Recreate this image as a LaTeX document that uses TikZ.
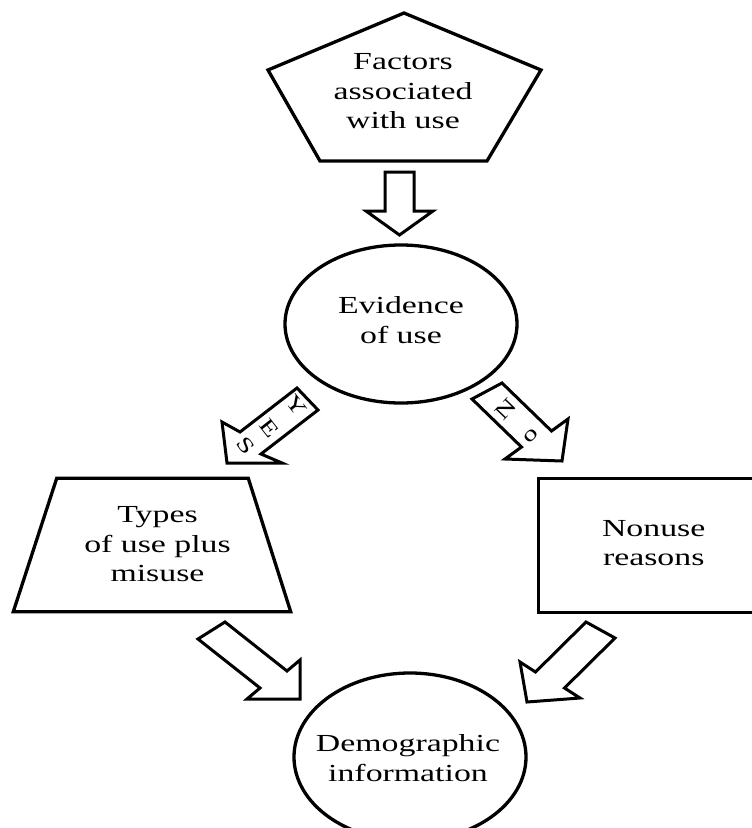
\documentclass[tikz,border=0pt]{standalone}
\usepackage{fontspec}
\setmainfont[FakeStretch=1.38]{Liberation Serif}
\usetikzlibrary{shapes.geometric}
\tikzset{
  shapeline/.style={draw=black, line width=3.3pt, line join=miter},
  boxtext/.style={align=center, font=\fontsize{24.5}{29.5}\selectfont, inner sep=0pt},
  arrowletter/.style={font=\fontsize{21}{21}\selectfont, inner sep=0pt},
  blockarrow/.style={draw=black, line width=3pt, fill=white, line join=miter},
}
\begin{document}
\begin{tikzpicture}[x=1pt,y=-1pt]
\clip (0,0) rectangle (752,828);
\fill[white] (0,0) rectangle (752,828);

% pentagon
\draw[shapeline] (404,13) -- (541,70) -- (487,161) -- (320,161) -- (268,70) -- cycle;
\node[boxtext] (factors) at (403,91.3) {Factors\\associated\\with use};

% top block arrow
\draw[blockarrow] (385,172) -- (414,172) -- (414,211) -- (433,211) -- (399.5,235) -- (366,211) -- (385,211) -- cycle;

% evidence ellipse
\node[shapeline, ellipse, minimum width=232pt, minimum height=158pt, inner sep=0pt] (evidence) at (401,324) {};
\node[boxtext] (evidencetext) at (401,320.3) {Evidence\\of use};

% YES arrow
\draw[blockarrow] (297,388) -- (240,432) -- (222,422) -- (227,463) -- (282,463) -- (261,454) -- (318,410) -- cycle;
\node[arrowletter, rotate=-52] (yesY) at (296,406) {Y};
\node[arrowletter, rotate=-52] (yesE) at (269,428) {E};
\node[arrowletter, rotate=-52] (yesS) at (246,446) {S};

% NO arrow
\draw[blockarrow] (502,383) -- (551.5,431) -- (568,419) -- (562,461) -- (505,459) -- (521.5,447) -- (472,399) -- cycle;
\node[arrowletter, rotate=46] (noN) at (506,409.5) {N};
\node[arrowletter, rotate=46] (noO) at (531,435.5) {o};

% trapezoid
\draw[shapeline] (56.7,478.3) -- (248.3,478.3) -- (290.7,611.7) -- (13.3,611.7) -- cycle;
\node[boxtext] (types) at (157.5,544.5) {Types\\of use plus\\misuse};

% rectangle
\node[shapeline, rectangle, minimum width=230.7pt, minimum height=134.4pt, inner sep=0pt] (nonuse) at (653.7,545.5) {};
\node[boxtext] (nonusetext) at (653.7,543) {Nonuse\\reasons};

% lower block arrows
\draw[blockarrow] (225,622) -- (287,671) -- (300,660) -- (300,699) -- (247,699) -- (260,688) -- (198,639) -- cycle;
\draw[blockarrow] (586,622) -- (535.5,672) -- (520,662) -- (527,702) -- (580,698) -- (564.5,688) -- (615,638) -- cycle;

% demographic ellipse
\node[shapeline, ellipse, minimum width=232pt, minimum height=168pt, inner sep=0pt] (demo) at (410,757) {};
\node[boxtext] (demotext) at (408,758) {Demographic\\information};
\end{tikzpicture}
\end{document}
